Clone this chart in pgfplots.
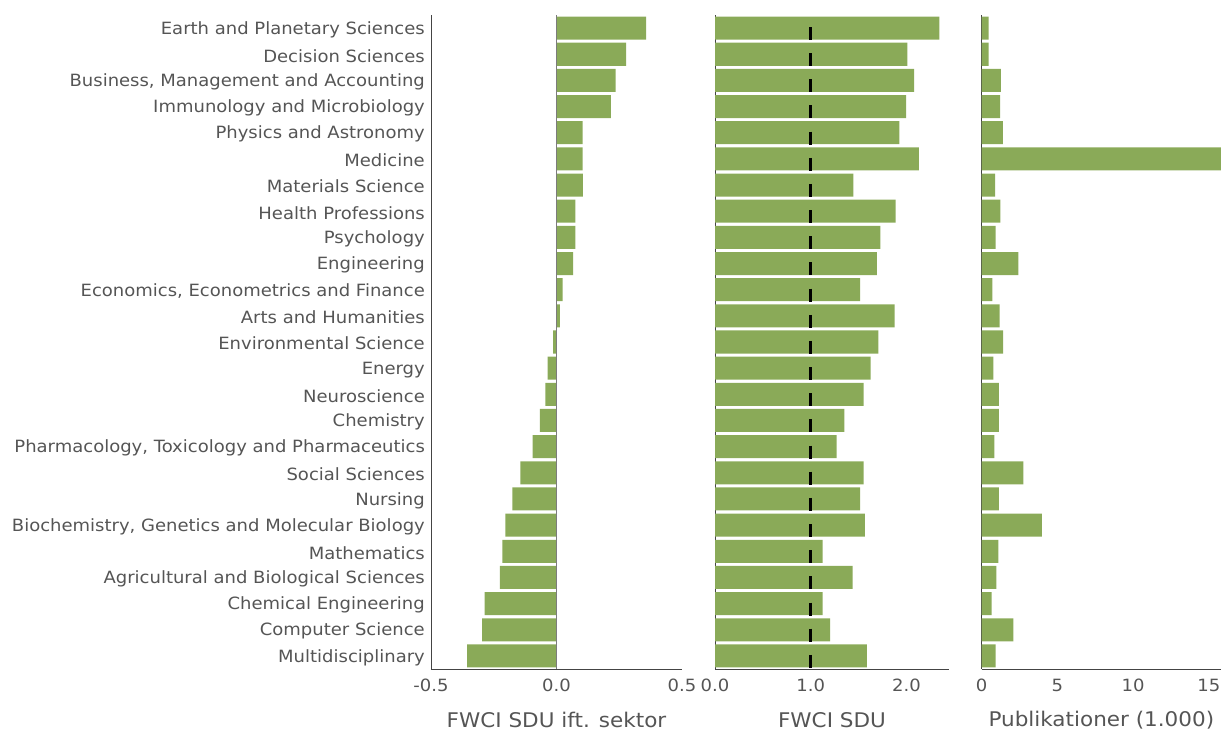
\documentclass[border=0pt]{standalone}
\usepackage{fontspec}
\setmainfont{DejaVu Sans}[FakeStretch=1.065]
\usepackage{pgfplots}
\usepackage{pgfplotstable}
\pgfplotsset{compat=1.18}
\definecolor{barc}{HTML}{8AAA58}
\definecolor{txt}{HTML}{555555}
\definecolor{axc}{HTML}{444444}

\pgfplotstableread{
idx sektor fwci pub
0  0.357 2.344 0.46
1  0.277 2.010 0.45
2  0.236 2.080 1.27
3  0.217 1.996 1.21
4  0.104 1.926 1.39
5  0.104 2.130 16.5
6  0.105 1.445 0.88
7  0.075 1.888 1.23
8  0.075 1.727 0.92
9  0.066 1.690 2.42
10 0.024 1.515 0.70
11 0.013 1.877 1.19
12 -0.013 1.706 1.41
13 -0.035 1.627 0.77
14 -0.044 1.554 1.14
15 -0.066 1.351 1.14
16 -0.095 1.272 0.83
17 -0.144 1.554 2.75
18 -0.176 1.515 1.14
19 -0.204 1.567 3.98
20 -0.216 1.125 1.10
21 -0.226 1.439 0.97
22 -0.286 1.125 0.66
23 -0.296 1.202 2.09
24 -0.356 1.588 0.92
}\data

\pgfplotsset{
  panel/.style={
    scale only axis,
    height=654pt,
    anchor=south west,
    y dir=reverse,
    ymin=-0.5, ymax=24.5,
    xbar, bar width=0.88,
    axis x line*=bottom,
    axis y line*=left,
    axis line style={axc, line width=0.9pt, -},
    major tick length=0pt,
    ticklabel style={font=\fontsize{16.9}{19}\selectfont, text=txt},
    xticklabel style={yshift=-6.5pt},
    xlabel style={font=\fontsize{20.2}{23}\selectfont, text=txt, at={(axis description cs:0.5,0)}, anchor=center, yshift=-51pt},
    clip=true,
  },
}

\begin{document}
\begin{tikzpicture}
\path[use as bounding box] (0pt,0pt) rectangle (1221pt,731pt);

\begin{axis}[panel,
  at={(431pt,62pt)}, width=251pt,
  xmin=-0.5, xmax=0.5,
  xtick={-0.5,0,0.5}, xticklabels={-0.5,0.0,0.5},
  ytick={0,...,24},
  yticklabels={Earth and Planetary Sciences,Decision Sciences,{Business, Management and Accounting},Immunology and Microbiology,Physics and Astronomy,Medicine,Materials Science,Health Professions,Psychology,Engineering,{Economics, Econometrics and Finance},Arts and Humanities,Environmental Science,Energy,Neuroscience,Chemistry,{Pharmacology, Toxicology and Pharmaceutics},Social Sciences,Nursing,{Biochemistry, Genetics and Molecular Biology},Mathematics,Agricultural and Biological Sciences,Chemical Engineering,Computer Science,Multidisciplinary},
  yticklabel style={anchor=east, inner sep=0pt, xshift=-6pt, yshift=-1.5pt},
  xlabel={FWCI SDU ift. sektor},
]
\addplot[fill=barc, draw=none] table[x=sektor, y=idx] {\data};
\addplot[xbar=0pt, draw=axc!70, line width=0.8pt, forget plot, sharp plot] coordinates {(0,-0.5) (0,24.5)};
\end{axis}

\begin{axis}[panel,
  at={(715pt,62pt)}, width=234pt,
  xmin=0, xmax=2.445,
  xtick={0,1,2}, xticklabels={0.0,1.0,2.0},
  ytick=\empty,
  xlabel={FWCI SDU},
]
\addplot[fill=barc, draw=none] table[x=fwci, y=idx] {\data};
\addplot[sharp plot, black, line width=2.6pt, dash pattern=on 13pt off 13.16pt, dash phase=14.16pt] coordinates {(1,-0.5) (1,24.5)};
\end{axis}

\begin{axis}[panel,
  at={(981.7pt,62pt)}, width=239.3pt,
  xmin=0, xmax=15.8,
  xtick={0,5,10,15}, xticklabels={0,5,10,15},
  ytick=\empty,
  xlabel={Publikationer (1.000)},
]
\addplot[fill=barc, draw=none] table[x=pub, y=idx] {\data};
\end{axis}
\end{tikzpicture}
\end{document}
